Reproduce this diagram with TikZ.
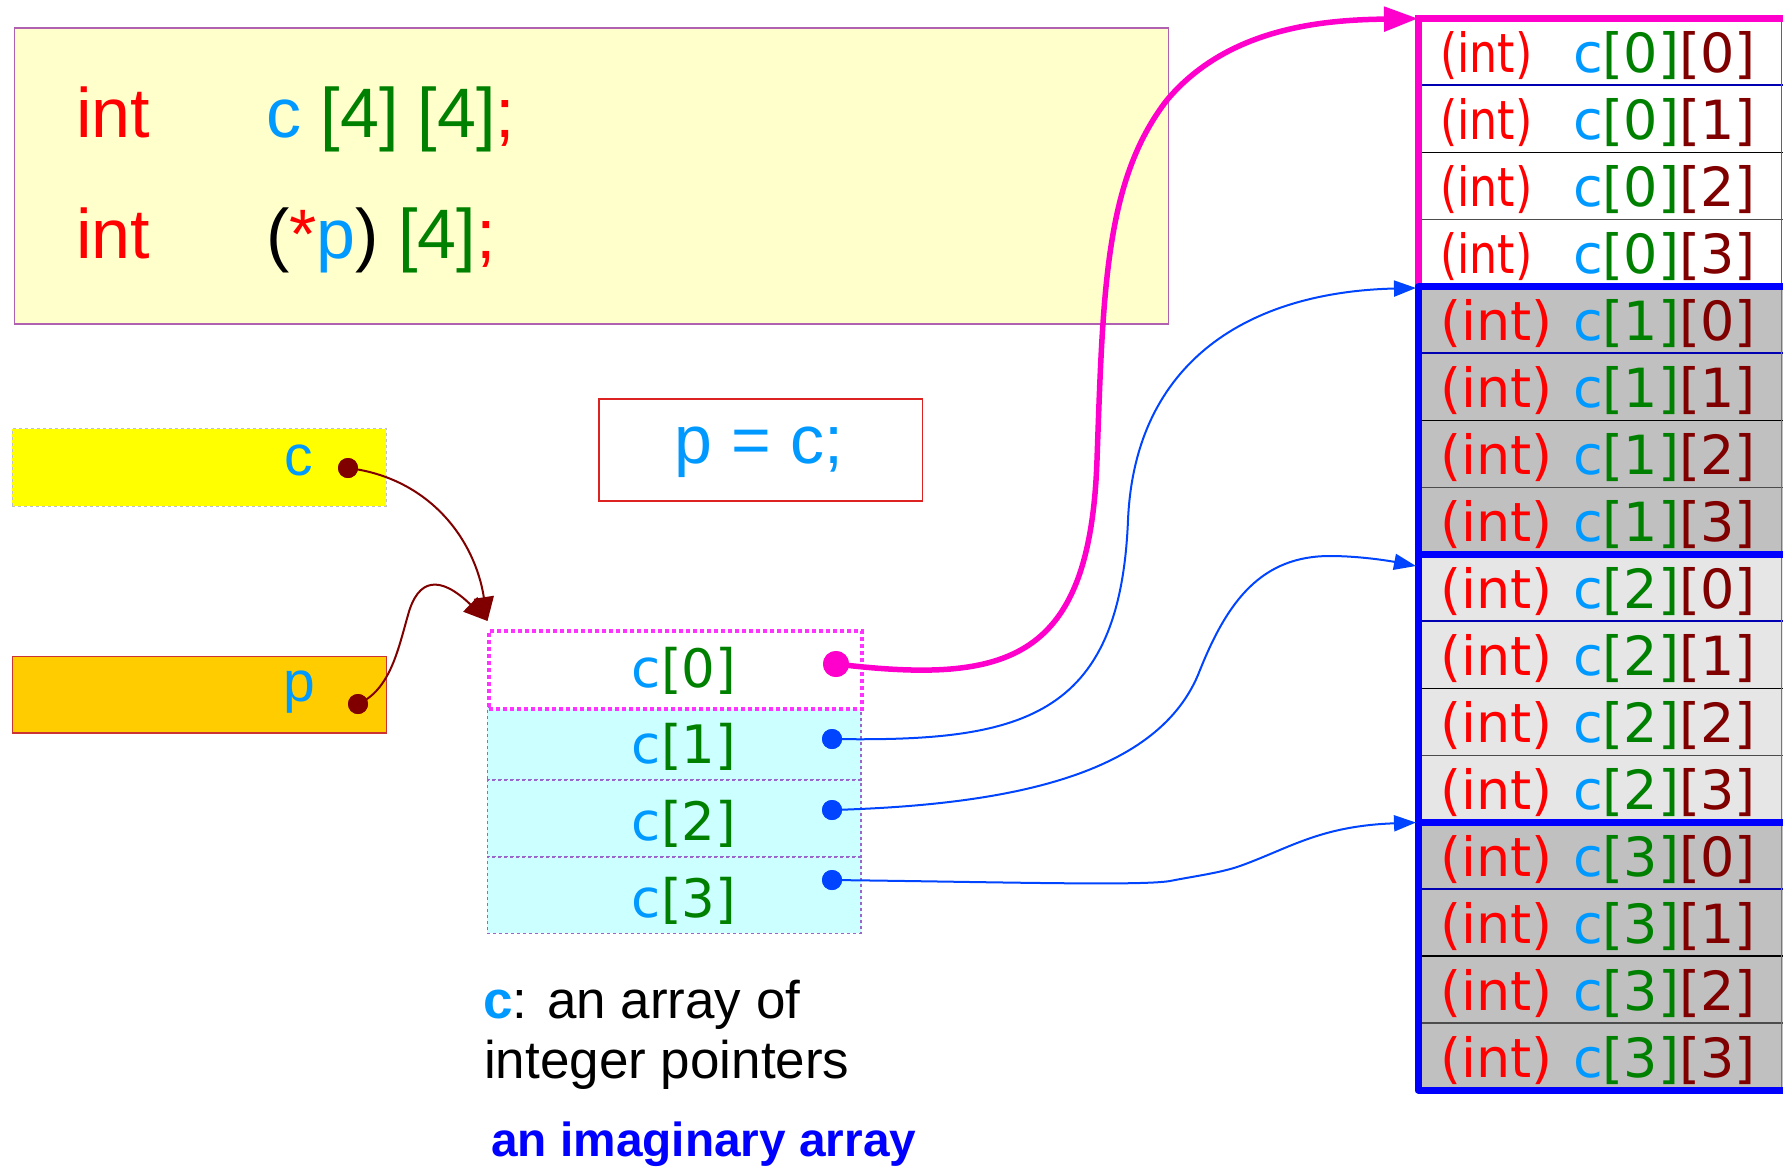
\documentclass[tikz,border=0pt]{standalone}
\usepackage{fontspec}
\usepackage{graphicx}
\usetikzlibrary{arrows.meta}
\newfontfamily\lib{Liberation Sans}
\newfontfamily\dej{DejaVu Sans}
\definecolor{cblue}{HTML}{0099FF}
\definecolor{cgreen}{HTML}{008000}
\definecolor{cdred}{HTML}{800000}
\definecolor{cred}{HTML}{FF0000}
\definecolor{cpink}{HTML}{FF00CC}
\definecolor{cpinkdot}{HTML}{FF33FF}
\definecolor{arrblue}{HTML}{0044FF}
\definecolor{grpblue}{HTML}{0000FF}
\definecolor{codebg}{HTML}{FFFFCC}
\definecolor{codeborder}{HTML}{B060B0}
\definecolor{cyanbg}{HTML}{CCFFFF}
\definecolor{cellpurple}{HTML}{9966CC}
\definecolor{grayA}{HTML}{C0C0C0}
\definecolor{grayB}{HTML}{E6E6E6}
\definecolor{yellowbg}{HTML}{FFFF00}
\definecolor{orangebg}{HTML}{FFCC00}
\definecolor{orangeborder}{HTML}{CC3333}
\definecolor{pcborder}{HTML}{DD2222}
\tikzset{
  codetxt/.style={anchor=base west, inner sep=0, font=\lib\fontsize{70}{84}\selectfont},
  vartxt/.style={anchor=base west, inner sep=0, text=cblue, font=\lib\fontsize{57}{68}\selectfont},
  rowint/.style={anchor=base west, inner sep=0, text=cred, font=\dej\fontsize{54}{64}\selectfont},
  rowval/.style={anchor=base west, inner sep=0, font=\dej\fontsize{54}{64}\selectfont},
  imagtxt/.style={anchor=base, inner sep=0, font=\dej\fontsize{53}{63}\selectfont},
  notetxt/.style={anchor=base west, inner sep=0, font=\lib\fontsize{53}{60}\selectfont},
  reddot/.style={circle, fill=cdred, inner sep=0, minimum size=20pt},
  bluedot/.style={circle, fill=arrblue, inner sep=0, minimum size=20pt},
  pinkdot/.style={circle, fill=cpink, inner sep=0, minimum size=26pt},
  darrow/.style={draw=cdred, line width=2pt, -{Triangle[length=24pt,width=20pt]}},
  barrow/.style={draw=arrblue, line width=2pt, -{Triangle[length=22pt,width=16pt]}},
  parrow/.style={draw=cpink, line width=5.5pt, -{Triangle[length=34pt,width=24pt]}},
  cyancell/.style={fill=cyanbg, draw=cellpurple, line width=1.5pt, dash pattern=on 3pt off 3pt},
}
\begin{document}
\begin{tikzpicture}[x=1pt,y=-1pt]
\useasboundingbox (0,0) rectangle (1783,1168);

% code box
\node[draw=codeborder, fill=codebg, line width=1.5pt, anchor=north west, inner sep=0,
      minimum width=1154pt, minimum height=296pt] (code) at (13.6,27.3) {};
\node[codetxt, text=cred] (int1) at (76,137) {int};
\node[codetxt] (decl1) at (266,137) {\textcolor{cblue}{c} \textcolor{cgreen}{[4] [4]}\textcolor{cred}{;}};
\node[codetxt, text=cred] (int2) at (76,258.5) {int};
\node[codetxt] (decl2) at (266,258.5) {\textcolor{black}{(}\textcolor{cred}{*}\textcolor{cblue}{p}\textcolor{black}{)} \textcolor{cgreen}{[4]}\textcolor{cred}{;}};

% variable boxes
\node[fill=yellowbg, draw=grayA, line width=1pt, dashed, anchor=north west, inner sep=0,
      minimum width=374pt, minimum height=77.4pt] (cbox) at (11.7,428.3) {};
\node[vartxt] (clab) at (284,475) {c};
\node[fill=orangebg, draw=orangeborder, line width=1.5pt, anchor=north west, inner sep=0,
      minimum width=374pt, minimum height=76.6pt] (pbox) at (11.7,655.7) {};
\node[vartxt] (plab) at (283,701.7) {p};

% p = c;
\node[draw=pcborder, line width=1.5pt, fill=white, anchor=north west, inner sep=0,
      minimum width=323.4pt, minimum height=101.7pt] (pcbox) at (598.3,398.3) {};
\node[anchor=base, inner sep=0, text=cblue, font=\lib\fontsize{68}{80}\selectfont] (pctxt) at (759,463) {p = c;};

% imaginary array
\node[cyancell, anchor=north west, inner sep=0, minimum width=373.3pt, minimum height=72.6pt] (cell1) at (486.7,706.7) {};
\node[cyancell, anchor=north west, inner sep=0, minimum width=373.3pt, minimum height=76.7pt] (cell2) at (486.7,779.3) {};
\node[cyancell, anchor=north west, inner sep=0, minimum width=373.3pt, minimum height=76.7pt] (cell3) at (486.7,856) {};
\node[fill=white, draw=cpinkdot, line width=4pt, dash pattern=on 4pt off 3pt, anchor=north west, inner sep=0,
      minimum width=373.3pt, minimum height=77.4pt] (cell0) at (486.7,629.3) {};
\node[imagtxt] (ct0) at (684,687) {\textcolor{cblue}{c}\textcolor{cgreen}{[0]}};
\node[imagtxt] (ct1) at (684,763.5) {\textcolor{cblue}{c}\textcolor{cgreen}{[1]}};
\node[imagtxt] (ct2) at (684,840) {\textcolor{cblue}{c}\textcolor{cgreen}{[2]}};
\node[imagtxt] (ct3) at (684,917) {\textcolor{cblue}{c}\textcolor{cgreen}{[3]}};

% notes
\node[notetxt] (note1) at (483,1018) {\textcolor{cblue}{\bfseries c}: an array of};
\node[notetxt] (note2) at (484,1078) {integer pointers};
\node[anchor=base west, inner sep=0, text=grpblue, font=\lib\bfseries\fontsize{47.8}{57}\selectfont] (imag) at (491,1156.7) {an imaginary array};

% 2D array
\foreach \g/\fc in {0/white,1/grayA,2/grayB,3/grayA} {
  \pgfmathsetmacro\gt{18.5+4*\g*66.97}
  \fill[\fc] (1418,\gt) rectangle (1783,{\gt+267.88});
  \draw[draw=blue!70!black, line width=2pt] (1418,{\gt+66.97}) -- (1783,{\gt+66.97});
  \draw[black, line width=1.2pt] (1418,{\gt+2*66.97}) -- (1783,{\gt+2*66.97});
  \draw[black!70, line width=1.2pt] (1418,{\gt+3*66.97}) -- (1783,{\gt+3*66.97});
}
\draw[cpink, line width=1pt] (1781.5,18.5) -- (1781.5,286.4);
\draw[blue!60, line width=1pt] (1781.5,286.4) -- (1781.5,1090);
\foreach \g in {0,...,3} {
  \foreach \r in {0,...,3} {
    \pgfmathsetmacro\rt{18.5+(4*\g+\r)*66.97}
    \node[rowint] (int-\g-\r) at (1440,{\rt+54}) {\ifnum\g=0 \scalebox{0.82}[1]{(int)}\else (int)\fi};
    \node[rowval] (val-\g-\r) at (1573,{\rt+54}) {\textcolor{cblue}{c}\textcolor{cgreen}{[\g]}\textcolor{cdred}{[\r]}};
  }
}
\draw[cpink, line width=7pt] (1783,18.5) -- (1418,18.5) -- (1418,286.4);
\draw[grpblue, line width=7pt, line join=round] (1783,286.4) -- (1418,286.4) -- (1418,1090) -- (1783,1090);
\draw[grpblue, line width=7pt] (1418,554.2) -- (1783,554.2);
\draw[grpblue, line width=7pt] (1418,822.1) -- (1783,822.1);

% targets and dots
\coordinate (g0) at (1418,18.5);
\coordinate (g1) at (1416,288);
\coordinate (g2) at (1416,566);
\coordinate (g3) at (1416,822.5);
\coordinate (tip) at (487.5,621);
\node[reddot] (dc) at (348,468) {};
\node[reddot] (dp) at (358,704) {};
\node[pinkdot] (d0) at (836,664) {};
\node[bluedot] (d1) at (832,739) {};
\node[bluedot] (d2) at (832,810) {};
\node[bluedot] (d3) at (832,880) {};

% connectors
\draw[darrow] (dc.center) .. controls (430,478) and (475,540) .. (tip);
\draw[darrow] (dp.center) .. controls (390,690) and (398,650) .. (408,615) .. controls (418,578) and (440,575) .. (tip);
\draw[parrow] (d0.center) .. controls (1010,685) and (1090,660) .. (1097,460) .. controls (1103,290) and (1105,180) .. (1167,100) .. controls (1230,25) and (1330,20) .. (g0);
\draw[barrow] (d1.center) .. controls (1020,742) and (1120,720) .. (1128,520) .. controls (1135,360) and (1250,292) .. (g1);
\draw[barrow] (d2.center) .. controls (1010,805) and (1160,775) .. (1200,670) .. controls (1228,600) and (1262,556) .. (1330,556) .. controls (1360,556) and (1390,561) .. (g2);
\draw[barrow] (d3.center) .. controls (1000,882) and (1140,886) .. (1170,881) .. controls (1195,876) and (1220,873) .. (1240,866) .. controls (1290,848) and (1320,826) .. (g3);

% redraw dots on top
\fill[cdred] (dc) circle (10pt);
\fill[cdred] (dp) circle (10pt);
\fill[cpink] (d0) circle (13pt);
\fill[arrblue] (d1) circle (10pt);
\fill[arrblue] (d2) circle (10pt);
\fill[arrblue] (d3) circle (10pt);
\end{tikzpicture}
\end{document}
